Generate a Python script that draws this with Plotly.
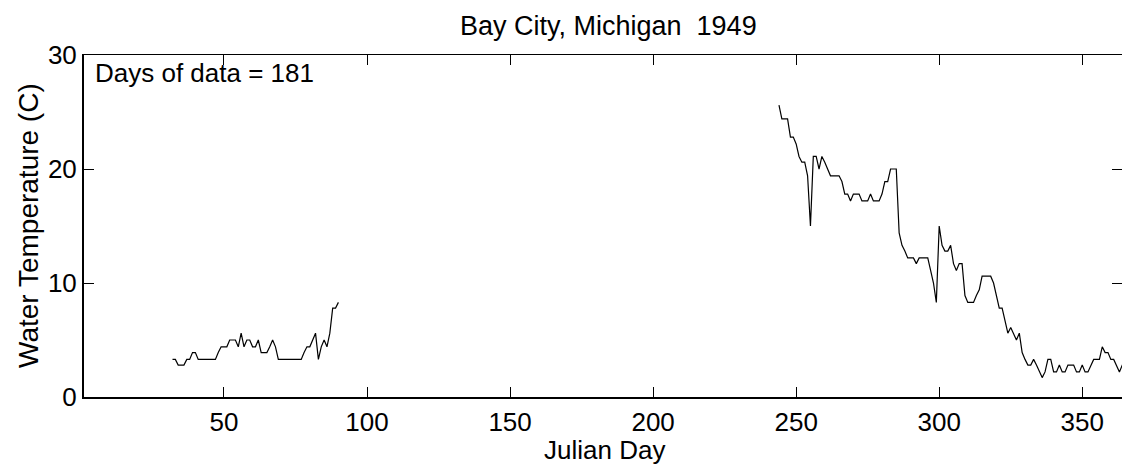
import plotly.graph_objects as go

# ---- data ----
days1 = list(range(32, 91))
temps1 = [3.3, 3.3, 2.8, 2.8, 2.8, 3.3, 3.3, 3.9, 3.9, 3.3,
          3.3, 3.3, 3.3, 3.3, 3.3, 3.3, 3.9, 4.4, 4.4, 4.4,
          5.0, 5.0, 5.0, 4.4, 5.6, 4.4, 5.0, 5.0, 4.4, 4.4,
          5.0, 3.9, 3.9, 3.9, 4.4, 5.0, 4.4, 3.3,
          3.3, 3.3, 3.3, 3.3, 3.3, 3.3, 3.3, 3.3,
          3.9, 4.4, 4.4, 5.0, 5.6, 3.3, 4.4, 5.0, 4.4, 5.6, 7.8, 7.8, 8.3]

days2 = list(range(244, 366))
temps2 = [25.6, 24.4, 24.4, 24.4, 22.8, 22.8, 22.2, 21.1, 20.6, 20.6,
          19.4, 15.0, 21.1, 21.1, 20.0, 21.1, 20.6, 20.0, 19.4, 19.4,
          19.4, 19.4, 18.9, 17.8, 17.8, 17.2, 17.8, 17.8, 17.8, 17.2,
          17.2, 17.2, 17.8, 17.2, 17.2, 17.2, 17.8, 18.9, 18.9, 20.0,
          20.0, 20.0, 14.4, 13.3, 12.8, 12.2, 12.2, 12.2, 11.7, 12.2,
          12.2, 12.2, 12.2, 11.1, 10.0, 8.3, 15.0, 13.3, 12.8, 12.8,
          13.3, 11.7, 11.1, 11.7, 11.7, 8.9, 8.3, 8.3, 8.3, 8.9,
          9.4, 10.6, 10.6, 10.6, 10.6, 10.0, 8.9, 7.8, 7.8, 6.7,
          5.6, 6.1, 5.6, 5.0, 5.6, 3.9, 3.3, 2.8, 2.8, 3.3,
          2.8, 2.2, 1.7, 2.2, 3.3, 3.3, 2.2, 2.2, 2.8, 2.2,
          2.2, 2.8, 2.8, 2.8, 2.2, 2.2, 2.8, 2.2, 2.2, 2.8,
          3.3, 3.3, 3.3, 4.4, 3.9, 3.9, 3.3, 3.3, 2.8, 2.2,
          2.8, 2.8]

x_ticks = [50, 100, 150, 200, 250, 300, 350]
y_ticks = [0, 10, 20, 30]

title_text = "Bay City, Michigan  1949"
x_label = "Julian Day"
y_label = "Water Temperature (C)"
days_text = "Days of data = " + str(len(days1) + len(days2))

FONT = "Liberation Sans, Arial, Helvetica, sans-serif"

fig = go.Figure()
fig.add_trace(go.Scatter(x=days1, y=temps1, mode="lines",
                         line=dict(color="black", width=1.2), showlegend=False,
                         hoverinfo="skip"))
fig.add_trace(go.Scatter(x=days2, y=temps2, mode="lines",
                         line=dict(color="black", width=1.2), showlegend=False,
                         hoverinfo="skip"))
# invisible trace to anchor the mirrored axes
fig.add_trace(go.Scatter(x=[days1[0]], y=[temps1[0]], xaxis="x2", yaxis="y2",
                         mode="markers", marker=dict(opacity=0),
                         showlegend=False, hoverinfo="skip"))

xr = [1.07, 363.9]
yr = [0, 30]

fig.update_layout(
    width=1122, height=468,
    margin=dict(l=84, r=0, t=55, b=71),
    paper_bgcolor="white", plot_bgcolor="white",
    font=dict(family=FONT, color="black"),
    xaxis=dict(range=xr, tickvals=x_ticks, ticks="inside", ticklen=10,
               tickwidth=1, tickcolor="black", showline=True, linewidth=2,
               linecolor="black", showgrid=False, zeroline=False,
               tickfont=dict(size=26), ticklabelstandoff=1),
    xaxis2=dict(range=xr, overlaying="x", side="top", tickvals=x_ticks,
                ticks="inside", ticklen=10, tickwidth=1, tickcolor="black",
                showticklabels=False, showline=True, linewidth=1,
                linecolor="black", showgrid=False, zeroline=False),
    yaxis=dict(range=yr, tickvals=y_ticks, ticks="inside", ticklen=10,
               tickwidth=1, tickcolor="black", showline=True, linewidth=2,
               linecolor="black", showgrid=False, zeroline=False,
               tickfont=dict(size=26), ticklabelstandoff=0),
    yaxis2=dict(range=yr, overlaying="y", side="right", tickvals=y_ticks,
                ticks="inside", ticklen=10, tickwidth=1, tickcolor="black",
                showticklabels=False, showline=False, showgrid=False,
                zeroline=False),
)

fig.add_annotation(text=title_text, xref="paper", yref="paper",
                   x=(608 - 84) / 1038, y=1 + (55 - 26) / 342,
                   xanchor="center", yanchor="middle", showarrow=False,
                   font=dict(size=27))
fig.add_annotation(text=x_label, xref="paper", yref="paper",
                   x=(604 - 84) / 1038, y=-(450 - 397) / 342,
                   xanchor="center", yanchor="middle", showarrow=False,
                   font=dict(size=26))
fig.add_annotation(text=y_label, xref="paper", yref="paper",
                   x=-(84 - 28) / 1038, y=0.5, textangle=-90,
                   xanchor="center", yanchor="middle", showarrow=False,
                   font=dict(size=28))
fig.add_annotation(text=days_text, xref="paper", yref="paper",
                   x=(93 - 84) / 1038, y=1 - (73 - 55) / 342,
                   xanchor="left", yanchor="middle", showarrow=False,
                   font=dict(size=26))

fig.write_html("out.html",
               config={"displayModeBar": False},
               post_script="document.body.style.margin='0px';"
                           "document.body.style.overflow='hidden';")
